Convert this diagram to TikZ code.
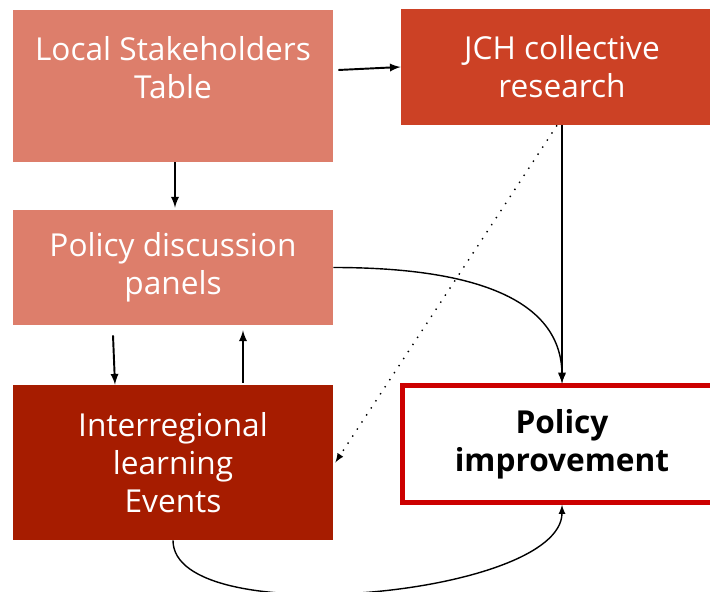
\documentclass[tikz,border=0pt]{standalone}
\usepackage{fontspec}
\setmainfont{Open Sans}
\usepackage{tikz}
\usetikzlibrary{arrows, positioning}
\usepackage{xcolor}
\definecolor{lightberry}{HTML}{DD7E6B}
\definecolor{berry}{HTML}{CC4125}
\definecolor{darkberry}{HTML}{A61C00}
\definecolor{darkred}{HTML}{CC0000}

\begin{document}
\begin{tikzpicture}[
	box/.style={inner sep=5pt, align=center, text=white, font=\fontsize{18}{21.5}\selectfont},
	link/.style={-latex, line width=1.1pt}]
		\clip (0,0) rectangle (14.2,-11.84);
		\draw (3.46,-1.72) node[box, fill=lightberry, minimum width=6.4cm, minimum height=3.04cm] (lst) {Local Stakeholders\\Table\\\mbox{}}
		(11.24,-1.34) node[box, fill=berry, minimum width=6.44cm, minimum height=2.32cm] (jch) {JCH collective\\research}
		(3.46,-5.35) node[box, fill=lightberry, minimum width=6.4cm, minimum height=2.3cm] (pdp) {Policy discussion\\panels}
		(3.46,-9.25) node[box, fill=darkberry, minimum width=6.4cm, minimum height=3.1cm] (ile) {Interregional\\learning\\Events}
		(11.24,-8.88) node[box, text=black, font=\fontsize{18}{21.5}\selectfont\bfseries, draw=darkred, line width=2.8pt, minimum width=6.38cm, minimum height=2.33cm] (pi) {Policy\\improvement};
		
		\draw[link] ([shift={(0.1,0.32)}]lst.east) -- (jch.west);
		\draw[link] ([xshift=0.04cm]lst.south) -- ([xshift=0.04cm,yshift=0.04cm]pdp.north);
		\draw[link] ([shift={(-1.2,-0.2)}]pdp.south) -- ([xshift=-1.16cm]ile.north);
		\draw[link] ([shift={(1.4,0.04)}]ile.north) -- ([shift={(1.4,-0.1)}]pdp.south);
		\draw[link] (jch.south) -- (pi.north);
		\draw[-latex, loosely dotted, thick] ([xshift=-0.1cm]jch.south) -- ([xshift=0.04cm]ile.east);
		\draw[-latex, thick] (pdp.east) to[out=0, in=90] (pi.north);
		\draw[-latex, thick] (ile.south) to[out=-90, in=-90, looseness=0.6] (pi.south);
	\end{tikzpicture}
\end{document}
